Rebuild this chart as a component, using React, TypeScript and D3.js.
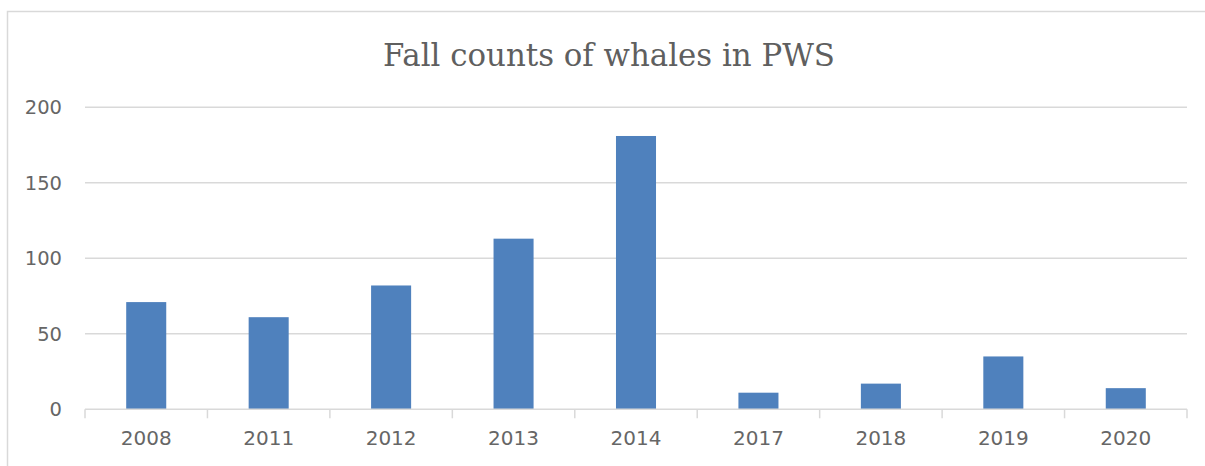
import React from "react";
import * as d3 from "d3";

const years = ["2008", "2011", "2012", "2013", "2014", "2017", "2018", "2019", "2020"];
const counts = [71, 61, 82, 113, 181, 11, 17, 35, 14];
const yTicks = [0, 50, 100, 150, 200];
const title = "Fall counts of whales in PWS";

const W = 1205;
const H = 466;
const left = 85;
const right = 1187;
const top = 107.3;
const bottom = 409.3;

export default function App() {
  const x = d3
    .scaleBand<string>()
    .domain(years)
    .range([left, right])
    .paddingInner(0.673)
    .paddingOuter(0.3365);
  const y = d3.scaleLinear().domain([0, 200]).range([bottom, top]);
  const step = x.step();
  const boundaries = d3.range(years.length + 1).map((i) => left + i * step);
  const textColor = "#666666";
  const grid = "#D9D9D9";

  return (
    <svg
      width={W}
      height={H}
      style={{ position: "absolute", left: 0, top: 0, background: "#fff" }}
    >
      <rect x={0} y={0} width={W} height={H} fill="#fff" />
      <rect x={7.5} y={11.5} width={W + 10} height={H + 10} fill="none" stroke="#D9D9D9" strokeWidth={1.5} />
      <text
        x={609}
        y={66}
        textAnchor="middle"
        fontFamily="'DejaVu Serif', serif"
        fontSize={31}
        fill="#5f5f5f"
        textLength={452}
        lengthAdjust="spacingAndGlyphs"
      >
        {title}
      </text>
      {yTicks.map((t) => (
        <g key={t}>
          {t !== 0 && (
            <line x1={left} x2={right} y1={y(t)} y2={y(t)} stroke={grid} strokeWidth={1.5} />
          )}
          <text
            x={62}
            y={y(t)}
            dy="0.36em"
            textAnchor="end"
            fontFamily="'DejaVu Sans', sans-serif"
            fontSize={19.5}
            fill={textColor}
          >
            {t}
          </text>
        </g>
      ))}
      {counts.map((v, i) => (
        <rect
          key={years[i]}
          x={x(years[i])}
          y={y(v)}
          width={x.bandwidth()}
          height={y(0) - y(v)}
          fill="#4F81BD"
        />
      ))}
      <line x1={left} x2={right} y1={bottom} y2={bottom} stroke={grid} strokeWidth={1.5} />
      {boundaries.map((b, i) => (
        <line key={i} x1={b} x2={b} y1={bottom} y2={bottom + 9} stroke={grid} strokeWidth={1.5} />
      ))}
      {years.map((yr) => (
        <text
          key={yr}
          x={(x(yr) as number) + x.bandwidth() / 2}
          y={445}
          textAnchor="middle"
          fontFamily="'DejaVu Sans', sans-serif"
          fontSize={20}
          fill={textColor}
        >
          {yr}
        </text>
      ))}
    </svg>
  );
}
